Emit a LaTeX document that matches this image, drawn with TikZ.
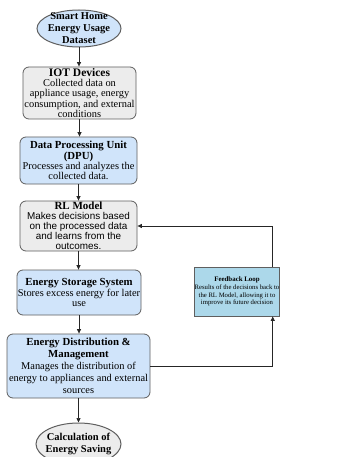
\documentclass[tikz,border=0pt]{standalone}
\usepackage{fontspec}
\setmainfont{Liberation Serif}
\newfontfamily\sansf{Liberation Sans}
\usetikzlibrary{shapes.geometric,arrows.meta}
\definecolor{bluf}{RGB}{208,228,250}
\definecolor{gryf}{RGB}{236,236,236}
\definecolor{fbf}{RGB}{172,216,234}
\definecolor{bord}{RGB}{95,95,95}
\newcommand{\ttlf}{\fontsize{10.8}{11.5}\selectfont\bfseries}
\begin{document}
\begin{tikzpicture}[x=1pt,y=-1pt,
  box/.style={draw=bord, line width=0.8pt, rounded corners=6pt, align=center, inner sep=0pt,
              font=\fontsize{10.4}{10.3}\selectfont},
  blu/.style={box, fill=bluf},
  gry/.style={box, fill=gryf},
  ell/.style={ellipse, draw=bord, line width=1pt, inner sep=0pt},
  etxt/.style={align=center, inner sep=0pt, font=\fontsize{10.5}{12}\selectfont\bfseries},
  fbox/.style={draw=bord, line width=0.8pt, fill=fbf, align=center, inner sep=0pt,
               font=\fontsize{6.7}{7.8}\selectfont},
  arr/.style={-{Triangle[length=4.5pt,width=4pt]}, line width=0.7pt, draw=black!85}]
\clip (0,0) rectangle (338,457);
\fill[white] (0,0) rectangle (338,457);

\node[ell, fill=bluf, minimum width=84pt, minimum height=37pt] (e1) at (79,28.5) {};
\node[etxt] (e1t) at (e1) {Smart Home\\Energy Usage\\Dataset};

\node[gry, minimum width=113pt, minimum height=52pt] (iot) at (79.5,93)
  {{\fontsize{11.5}{11.5}\selectfont\bfseries IOT Devices}\\Collected data on\\appliance usage, energy\\consumption, and external\\conditions};

\node[blu, minimum width=117pt, minimum height=47pt] (dpu) at (78.5,160.5)
  {{\ttlf Data Processing Unit}\\{\ttlf (DPU)}\\Processes and analyzes the\\collected data.};

\node[gry, minimum width=117pt, minimum height=50pt, font=\sansf\fontsize{9.9}{9.9}\selectfont] (rl) at (78.5,226)
  {{\rmfamily\fontsize{11}{11}\selectfont\bfseries RL Model}\\Makes decisions based\\on the processed data\\and learns from the\\outcomes.};

\node[blu, minimum width=124pt, minimum height=45pt] (ess) at (79,292.5)
  {{\ttlf Energy Storage System}\\Stores excess energy for later\\use};

\node[blu, minimum width=143pt, minimum height=64pt, font=\fontsize{10.4}{12}\selectfont] (edm) at (78.5,366)
  {{\ttlf Energy Distribution \&}\\{\ttlf Management}\\Manages the distribution of\\energy to appliances and external\\sources};

\node[ell, fill=gryf, minimum width=85pt, minimum height=42pt] (e2) at (78.5,444) {};
\node[etxt] (e2t) at (e2) {Calculation of\\Energy Saving};

\node[fbox, minimum width=84pt, minimum height=49pt] (fb) at (237,291.5)
  {{\fontsize{6.9}{7.8}\selectfont\bfseries Feedback Loop}\\Results of the decisions back to\\the RL Model, allowing it to\\improve its future decision};

\draw[arr] (e1.south) -- (e1.south |- iot.north);
\draw[arr] (iot.south) -- (iot.south |- dpu.north);
\draw[arr] (dpu.south) -- (dpu.south |- rl.north);
\draw[arr] (rl.south) -- (rl.south |- ess.north);
\draw[arr] (ess.south) -- (ess.south |- edm.north);
\draw[arr] (edm.south) -- (edm.south |- e2.north);
\draw[arr] (edm.east) -| ([xshift=-7pt]fb.south east);
\draw[arr] ([xshift=-7pt]fb.north east) |- (rl.east);
\end{tikzpicture}
\end{document}
